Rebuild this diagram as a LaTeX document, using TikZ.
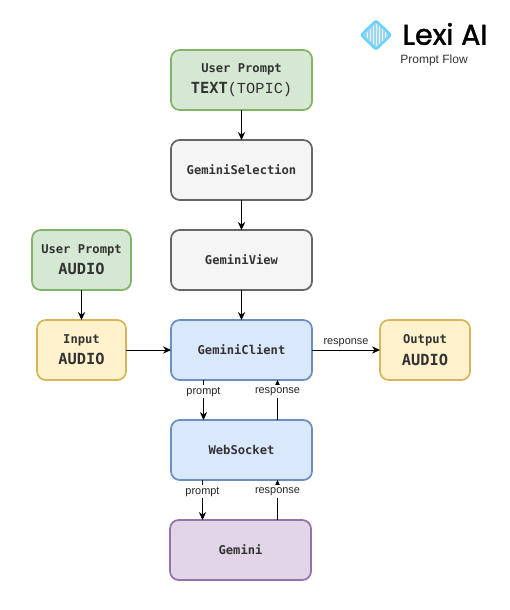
\documentclass[tikz,border=0pt]{standalone}
\usepackage{fontspec}
\setmainfont{Liberation Sans}
\setmonofont{DejaVu Sans Mono}
\newfontfamily\thinmono{Liberation Mono}
\newfontfamily\logofont[FakeBold=1.4]{Poppins}
\usetikzlibrary{positioning,arrows.meta}
\definecolor{gfill}{HTML}{D5E8D4}
\definecolor{gline}{HTML}{82B366}
\definecolor{sfill}{HTML}{F5F5F5}
\definecolor{sline}{HTML}{666666}
\definecolor{bfill}{HTML}{DAE8FC}
\definecolor{bline}{HTML}{6C8EBF}
\definecolor{yfill}{HTML}{FFF2CC}
\definecolor{yline}{HTML}{D6B656}
\definecolor{pfill}{HTML}{E1D5E7}
\definecolor{pline}{HTML}{9673A6}
\definecolor{dcyan}{HTML}{62D2FA}
\definecolor{dpale}{HTML}{9FD6EE}
\tikzset{%
  box/.style = { draw, rounded corners=6.5pt, line width=1.3pt, align=center, outer sep=0pt, inner sep=0pt,
    minimum width=105.75pt, minimum height=45pt, text=black!80, font=\ttfamily\bfseries\fontsize{9.1}{14}\selectfont },
  small/.style = { minimum width=66.75pt },
  greenbox/.style = { box, fill=gfill, draw=gline },
  graybox/.style = { box, fill=sfill, draw=sline },
  bluebox/.style = { box, fill=bfill, draw=bline },
  yellowbox/.style = { box, small, fill=yfill, draw=yline },
  purplebox/.style = { box, fill=pfill, draw=pline },
  flow/.style = { line width=0.75pt, ->, >={Stealth[length=6pt,width=5.5pt]} },
  edgelabel/.style = { font=\fontsize{8.2}{10}\selectfont, text=black!85, inner sep=1.6pt }
}
\newcommand{\bigtext}[1]{{\fontsize{11.5}{14}\selectfont #1}}

\begin{document}
\begin{tikzpicture}[x=0.75pt,y=-0.75pt]

  \useasboundingbox (0,0) rectangle (510,610);

  % Main column
  \node[greenbox] (prompttext) at (241.5,80) {User Prompt\\[2pt]\bigtext{TEXT{\thinmono\mdseries (TOPIC)}}};
  \node[graybox, below=22.5pt of prompttext] (selection) {GeminiSelection};
  \node[graybox, below=22.5pt of selection] (view) {GeminiView};
  \node[bluebox, below=22.5pt of view] (client) {GeminiClient};
  \node[bluebox, below=30pt of client] (socket) {WebSocket};
  \node[purplebox, below=30pt of socket, xshift=-0.75pt] (gemini) {Gemini};

  % Audio side
  \node[yellowbox, left=33.75pt of client] (input) {Input\\[2pt]\bigtext{AUDIO}};
  \node[greenbox, minimum width=74.25pt, above=22.5pt of input] (promptaudio) {User Prompt\\[2pt]\bigtext{AUDIO}};
  \node[yellowbox, minimum width=67.5pt, right=51pt of client] (output) {Output\\[2pt]\bigtext{AUDIO}};

  % Connectors
  \draw[flow] (prompttext) -- (selection);
  \draw[flow] (selection) -- (view);
  \draw[flow] (view) -- (client);
  \draw[flow] (promptaudio) -- (input);
  \draw[flow] (input) -- (client);
  \draw[flow] (client) -- node[edgelabel, above=0.2pt] (resout) {response} (output);

  \draw[flow] ([xshift=-28.5pt]client.south) -- node[pos=0.29, edgelabel, fill=white] (prompta) {prompt} ([xshift=-28.5pt]socket.north);
  \draw[flow] ([xshift=27pt]socket.north) -- node[pos=0.71, edgelabel, fill=white] (resa) {response} ([xshift=27pt]client.south);
  \draw[flow] ([xshift=-29.25pt]socket.south) -- node[pos=0.29, edgelabel, fill=white] (promptb) {prompt} ([xshift=-28.5pt]gemini.north);
  \draw[flow] ([xshift=27.75pt]gemini.north) -- node[pos=0.71, edgelabel, fill=white] (resb) {response} ([xshift=27pt]socket.south);

  % Logo
  \draw[line width=1.6pt, draw=dcyan, fill=dpale, rounded corners=1.5pt] (376,20.5) -- (391,35) -- (376,49.5) -- (361,35) -- cycle;
  \foreach \x/\h in {367/3,370/6,373/9,376/11,379/9,382/6,385/3} {
    \draw[white!75!dpale, line width=0.5pt] (\x,35-\h) -- (\x,35+\h);
  }
  \node[font=\logofont\fontsize{21.5}{24}\selectfont, inner sep=0pt] (logo) at (445,34) {Lexi AI};
  \node[font=\fontsize{9}{11}\selectfont, text=black!80, inner sep=0pt] (subtitle) at (434,60.5) {Prompt Flow};

\end{tikzpicture}
\end{document}
